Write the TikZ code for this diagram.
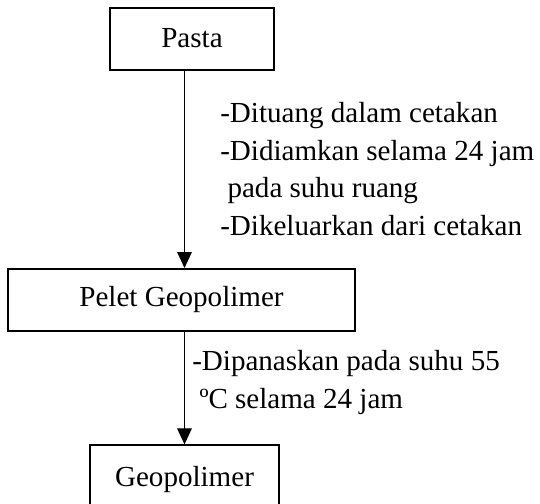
\documentclass[tikz,border=0pt]{standalone}
\usepackage{fontspec}
\setmainfont{Liberation Serif}
\usetikzlibrary{positioning,arrows.meta}

\begin{document}
\begin{tikzpicture}[>={Triangle[length=12pt,width=11pt]}, x=0.75pt, y=-0.75pt,
    font={\fontsize{21.8}{28.3}\selectfont},
    box/.style={draw, line width=1.5pt, inner sep=0pt, minimum height=46.5pt},
    steps/.style={align=left, inner sep=0pt, anchor=north west}]

        % frame of the picture
        \useasboundingbox (0,0) rectangle (540,504);

        % process boxes
        \node[box, minimum width=123pt] (pasta) at (192,38.5) {Pasta};
        \node[box, minimum width=260pt] (pelet) at (181.5,300) {Pelet Geopolimer};
        \node[box, minimum width=142pt, minimum height=52pt] (geo) at (184.5,480) {Geopolimer};

        % arrows between the boxes
        \draw[->, line width=0.75pt] (pasta.south -| geo.north) -- (pelet.north -| geo.north);
        \draw[->, line width=0.75pt] (pelet.south -| geo.north) -- (geo.north);

        % step notes beside the arrows
        \node[steps] (cetak) at (220,102) {-Dituang dalam cetakan\\-Didiamkan selama 24 jam\\\ pada suhu ruang\\-Dikeluarkan dari cetakan};
        \node[steps] (panas) at (192,350) {-Dipanaskan pada suhu 55\\\ ºC selama 24 jam};

    \end{tikzpicture}
\end{document}
